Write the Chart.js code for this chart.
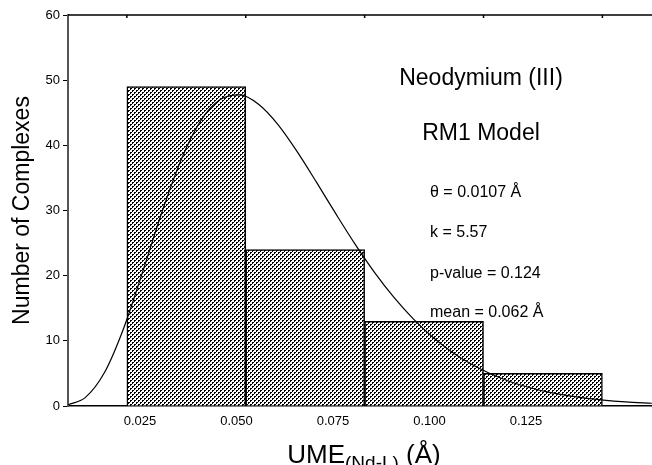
<!DOCTYPE html>
<html>
<head>
<meta charset="utf-8">
<script src="https://cdn.jsdelivr.net/npm/chart.js@4.4.1/dist/chart.umd.min.js"></script>
<style>
  html, body { margin: 0; padding: 0; background: #fff; }
  #wrap { width: 652px; height: 465px; }
</style>
</head>
<body>
<div id="wrap"><canvas id="chart" width="652" height="465"></canvas></div>
<script>
// histogram bins (UME, Angstrom) and counts
const binEdges = [0.0216, 0.0524, 0.0832, 0.1140, 0.1448];
const binCounts = [49, 24, 13, 5];

// fitted gamma curve
const curveX = [0.0064, 0.0108, 0.0158, 0.0208, 0.0258, 0.0308, 0.0358, 0.0408, 0.0458, 0.0508,
                0.0558, 0.0608, 0.0658, 0.0708, 0.0758, 0.0808, 0.0858, 0.0908, 0.0958, 0.1008,
                0.1058, 0.1108, 0.1158, 0.1208, 0.1258, 0.1308, 0.1408, 0.1508, 0.1576];
const curveY = [0.2, 1.28, 5.13, 11.97, 20.79, 29.96, 37.99, 43.83, 47.02, 47.73,
                46.26, 43.14, 38.96, 34.27, 29.44, 24.77, 20.48, 16.67, 13.38, 10.60,
                8.30, 6.43, 4.94, 3.76, 2.84, 2.13, 1.17, 0.63, 0.42];

const xTicks = [0.025, 0.050, 0.075, 0.100, 0.125];
const xMin = 0.00635;
const xMax = 0.15765;
const yTicks = [0, 10, 20, 30, 40, 50, 60];

const headLines = ['Neodymium (III)', 'RM1 Model'];
const statLines = ['\u03b8 = 0.0107 \u00c5', 'k = 5.57', 'p-value = 0.124', 'mean = 0.062 \u00c5'];

const FONT = "Arial, 'Liberation Sans', sans-serif";

// hatch fill like the original: "////" stripes, slightly broken up
function makeHatch() {
  const t = document.createElement('canvas');
  t.width = 8; t.height = 8;
  const c = t.getContext('2d');
  c.fillStyle = '#fff';
  c.fillRect(0, 0, 8, 8);
  c.fillStyle = '#000';
  for (let i = 0; i < 8; i++) {
    for (let k = 0; k < 8; k += 4) {
      c.fillRect(i, (7 - i + k + 8) % 8, 1, 1);
      if (i % 2 === 0) c.fillRect(i, (6 - i + k + 8) % 8, 1, 1);
    }
  }
  return document.getElementById('chart').getContext('2d').createPattern(t, 'repeat');
}

const barData = binCounts.map((n, i) => ({ x: (binEdges[i] + binEdges[i + 1]) / 2, y: n }));
const lineData = curveX.map((x, i) => ({ x: x, y: curveY[i] }));

const extras = {
  id: 'extras',
  afterDraw(chart) {
    const ctx = chart.ctx;
    const a = chart.chartArea;
    const xs = chart.scales.x;
    ctx.save();
    // top frame line with inward ticks at the bin edges
    ctx.strokeStyle = '#000';
    ctx.lineWidth = 1.5;
    ctx.beginPath();
    ctx.moveTo(a.left, a.top);
    ctx.lineTo(a.right, a.top);
    binEdges.forEach(e => {
      const px = xs.getPixelForValue(e);
      ctx.moveTo(px, a.top);
      ctx.lineTo(px, a.top + 3);
    });
    ctx.stroke();

    // labels inside the plot
    ctx.fillStyle = '#000';
    ctx.textBaseline = 'alphabetic';
    ctx.textAlign = 'center';
    ctx.font = '23px ' + FONT;
    ctx.fillText(headLines[0], 481, 85);
    ctx.fillText(headLines[1], 481, 140);
    ctx.textAlign = 'left';
    ctx.font = '16px ' + FONT;
    [197, 237, 278, 317].forEach((y, i) => ctx.fillText(statLines[i], 430, y));

    // x axis title with subscript
    const big = '26px ' + FONT, small = '19px ' + FONT;
    ctx.font = big;
    const w1 = ctx.measureText('UME').width;
    const w3 = ctx.measureText(' (\u00c5)').width;
    ctx.font = small;
    const w2 = ctx.measureText('(Nd-L)').width;
    let x0 = 364 - (w1 + w2 + w3) / 2;
    const base = 463;
    ctx.font = big;
    ctx.fillText('UME', x0, base);
    ctx.font = small;
    ctx.fillText('(Nd-L)', x0 + w1, base + 6);
    ctx.font = big;
    ctx.fillText(' (\u00c5)', x0 + w1 + w2, base);
    ctx.restore();
  }
};

new Chart(document.getElementById('chart'), {
  type: 'bar',
  data: {
    datasets: [
      {
        type: 'line',
        data: lineData,
        borderColor: '#000',
        borderWidth: 1.2,
        pointRadius: 0,
        fill: false,
        cubicInterpolationMode: 'monotone',
        order: 0
      },
      {
        type: 'bar',
        data: barData,
        backgroundColor: makeHatch(),
        borderColor: '#000',
        borderWidth: 1.5,
        borderSkipped: 'bottom',
        barThickness: 'flex',
        barPercentage: 1,
        categoryPercentage: 1,
        order: 1
      }
    ]
  },
  options: {
    responsive: false,
    devicePixelRatio: 1,
    animation: false,
    layout: { padding: { top: 15, right: 0, left: 0, bottom: 0 } },
    plugins: { legend: { display: false }, tooltip: { enabled: false } },
    scales: {
      x: {
        type: 'linear',
        min: xMin,
        max: xMax,
        offset: false,
        grid: { display: false, drawTicks: false, offset: false },
        border: { display: true, color: '#000', width: 1.5 },
        afterBuildTicks: s => { s.ticks = xTicks.map(v => ({ value: v })); },
        afterFit: s => { s.height = 59; },
        ticks: {
          color: '#000',
          padding: 8,
          maxRotation: 0,
          font: { family: FONT, size: 13 },
          callback: v => Number(v).toFixed(3)
        }
      },
      y: {
        min: 0,
        max: 60,
        afterBuildTicks: s => { s.ticks = yTicks.map(v => ({ value: v })); },
        afterFit: s => { s.width = 68; },
        grid: { drawOnChartArea: false, drawTicks: true, tickLength: 5, color: '#000' },
        border: { display: true, color: '#555', width: 2 },
        ticks: { color: '#000', padding: 3, font: { family: FONT, size: 13 } },
        title: {
          display: true,
          text: 'Number of Complexes',
          color: '#000',
          font: { family: FONT, size: 23 },
          padding: { top: 9, bottom: 0 }
        }
      }
    }
  },
  plugins: [extras]
});
</script>
</body>
</html>
